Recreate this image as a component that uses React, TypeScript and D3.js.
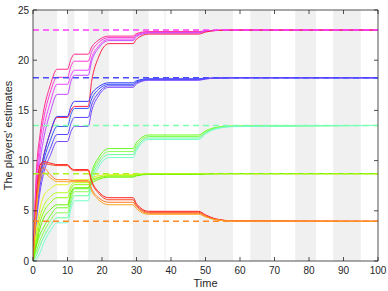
import * as d3 from "d3";
import {useRef, useEffect} from "react";

// sample times of every curve
const times = [0, 1, 2, 3, 5, 7, 10, 11, 12, 16, 17, 19, 22, 29, 30, 33.5, 48, 50, 53, 58, 100];

// shaded intervals (gray)
const bands = [[0, 7], [10, 12], [16, 22], [29, 33.5], [48, 58], [63, 69], [76, 82], [87, 95]];
const thinBands = [[38, 38.6]];

// true values (dashed lines)
const targets = [23, 18.25, 13.5, 8.7, 3.95];
const targetColors = ["#ff3cff", "#4a4aff", "#7dffb0", "#aef21e", "#ff8a26"];

// players' estimates
const curves = [
  {color: "#ff2a8a", v: [0, 9, 12.5, 14.8, 17.5, 19.1, 19.1, 20.1, 20.6, 20.6, 21.3, 22.0, 22.4, 22.4, 22.65, 22.85, 22.85, 22.93, 22.98, 23, 23]},
  {color: "#ff3cd2", v: [0, 8, 11.8, 14.0, 16.8, 18.3, 18.3, 19.4, 19.9, 19.9, 20.85, 21.75, 22.25, 22.25, 22.55, 22.8, 22.8, 22.9, 22.97, 23, 23]},
  {color: "#ee44ff", v: [0, 7, 10.8, 13.0, 15.8, 17.6, 17.6, 18.5, 19.0, 19.0, 20.25, 21.4, 22.1, 22.1, 22.45, 22.75, 22.75, 22.88, 22.96, 23, 23]},
  {color: "#c44cff", v: [0, 6, 9.8, 12.0, 14.8, 16.6, 16.6, 17.9, 18.5, 18.5, 19.9, 21.2, 21.95, 21.95, 22.35, 22.7, 22.7, 22.86, 22.96, 23, 23]},
  {color: "#ff2248", v: [0, 5, 8.5, 10.3, 12.8, 14.3, 14.3, 15.0, 15.4, 15.4, 17.9, 20.3, 21.65, 21.65, 22.1, 22.6, 22.6, 22.8, 22.95, 23, 23]},
  {color: "#3a3aff", v: [0, 5.5, 8.5, 10.3, 12.8, 14.4, 14.4, 15.4, 15.9, 15.9, 16.65, 17.35, 17.75, 17.75, 17.95, 18.15, 18.15, 18.2, 18.23, 18.25, 18.25]},
  {color: "#2f55ff", v: [0, 5, 8, 9.8, 12, 13.4, 13.4, 14.6, 15.2, 15.2, 16.15, 17.1, 17.6, 17.6, 17.85, 18.1, 18.1, 18.17, 18.22, 18.25, 18.25]},
  {color: "#5a44ff", v: [0, 4.5, 7.4, 9.2, 11.2, 12.6, 12.6, 13.7, 14.3, 14.3, 15.55, 16.75, 17.45, 17.45, 17.75, 18.05, 18.05, 18.15, 18.22, 18.25, 18.25]},
  {color: "#7a48ff", v: [0, 4, 6.8, 8.6, 10.5, 11.9, 11.9, 12.9, 13.4, 13.4, 14.95, 16.45, 17.3, 17.3, 17.65, 18.0, 18.0, 18.12, 18.21, 18.25, 18.25]},
  {color: "#66ff22", v: [0, 1.5, 2.6, 3.3, 4.5, 5.3, 5.3, 6.5, 7.2, 7.2, 8.8, 10.3, 11.2, 11.2, 11.8, 12.55, 12.55, 12.95, 13.3, 13.45, 13.5]},
  {color: "#88ff55", v: [0, 1, 2, 2.8, 4, 4.8, 4.8, 6.1, 6.9, 6.9, 8.5, 10.0, 10.9, 10.9, 11.5, 12.4, 12.4, 12.85, 13.25, 13.42, 13.5]},
  {color: "#66ff99", v: [0, 0.6, 1.5, 2.3, 3.5, 4.3, 4.3, 5.7, 6.5, 6.5, 8.15, 9.7, 10.6, 10.6, 11.25, 12.25, 12.25, 12.75, 13.2, 13.4, 13.5]},
  {color: "#77ffcc", v: [0, 0.2, 0.8, 1.7, 3, 3.8, 3.8, 5.2, 6.0, 6.0, 7.7, 9.35, 10.3, 10.3, 11.0, 12.1, 12.1, 12.65, 13.15, 13.38, 13.5]},
  {color: "#e6f026", v: [0, 3, 5.2, 6.4, 7.2, 7.6, 7.6, 7.95, 8.1, 8.1, 8.3, 8.5, 8.6, 8.6, 8.65, 8.7, 8.7, 8.7, 8.7, 8.7, 8.7]},
  {color: "#b4ff1e", v: [0, 2.5, 4.4, 5.4, 6.4, 6.8, 6.8, 7.5, 7.8, 7.8, 8.08, 8.35, 8.5, 8.5, 8.58, 8.66, 8.66, 8.68, 8.7, 8.7, 8.7]},
  {color: "#8cff0a", v: [0, 2, 3.8, 4.8, 5.8, 6.3, 6.3, 7.2, 7.6, 7.6, 7.95, 8.27, 8.45, 8.45, 8.55, 8.65, 8.65, 8.68, 8.7, 8.7, 8.7]},
  {color: "#6cf200", v: [0, 1.7, 3.2, 4.2, 5.1, 5.6, 5.6, 6.8, 7.3, 7.3, 7.72, 8.12, 8.35, 8.35, 8.48, 8.62, 8.62, 8.66, 8.69, 8.7, 8.7]},
  {color: "#ff1a1a", v: [0, 6.5, 9.5, 9.9, 9.75, 9.6, 9.6, 9.25, 9.1, 9.1, 7.98, 6.9, 6.3, 6.3, 5.7, 4.95, 4.95, 4.6, 4.2, 4.0, 3.95]},
  {color: "#ff4422", v: [0, 6, 9, 9.7, 9.6, 9.5, 9.5, 9.15, 9.0, 9.0, 7.85, 6.75, 6.1, 6.1, 5.55, 4.85, 4.85, 4.5, 4.15, 4.0, 3.95]},
  {color: "#ff7a22", v: [0, 5.5, 8.5, 9.3, 8.6, 8.1, 8.1, 8.05, 8.0, 8.0, 7.15, 6.3, 5.85, 5.85, 5.4, 4.75, 4.75, 4.45, 4.12, 3.98, 3.95]},
  {color: "#ffa522", v: [0, 5, 8, 8.8, 8.3, 7.9, 7.9, 7.9, 7.9, 7.9, 6.98, 6.1, 5.6, 5.6, 5.2, 4.65, 4.65, 4.4, 4.1, 3.97, 3.95]},
];

const xTicks = [0, 10, 20, 30, 40, 50, 60, 70, 80, 90, 100];
const yTicks = [0, 5, 10, 15, 20, 25];

export default function App({
  width = 388,
  height = 291,
  marginTop = 10,
  marginRight = 10,
  marginBottom = 30,
  marginLeft = 33
}) {
  const x = d3.scaleLinear([0, 100], [marginLeft, width - marginRight]);
  const y = d3.scaleLinear([0, 25], [height - marginBottom, marginTop]);
  const line = d3.line<number>((d, i) => x(times[i]), (d) => y(d)).curve(d3.curveMonotoneX);
  const axisColor = "#262626";
  const font = "'Liberation Sans', Arial, sans-serif";
  const x0 = x(0), x1 = x(100), y0 = y(0), y1 = y(25);

  return (
    <svg width={width} height={height} style={{position: "absolute", left: 0, top: 0, background: "#fff"}}>
      <defs>
        <clipPath id="plot"><rect x={x0} y={y1} width={x1 - x0} height={y0 - y1} /></clipPath>
      </defs>
      <g>
        {bands.map(([a, b], i) => (
          <rect key={i} x={x(a)} y={y1} width={x(b) - x(a)} height={y0 - y1} fill="#f0f0f0" />
        ))}
        {thinBands.map(([a, b], i) => (
          <rect key={i} x={x(a)} y={y1} width={x(b) - x(a)} height={y0 - y1} fill="#f5f5f5" />
        ))}
      </g>
      <g clipPath="url(#plot)" fill="none" strokeWidth={1}>
        {curves.map((c, i) => (<path key={i} d={line(c.v) || ""} stroke={c.color} />))}
        {targets.map((t, i) => (
          <line key={i} x1={x0} x2={x1} y1={y(t)} y2={y(t)} stroke={targetColors[i]} strokeWidth={1.5} strokeDasharray="6,4" />
        ))}
      </g>
      <g stroke={axisColor} strokeWidth={0.8} fill="none">
        <path d={`M${x0},${y1}V${y0}H${x1}V${y1}H${x0}`} />
        {xTicks.map((t) => (
          <path key={t} d={`M${x(t)},${y0}v-4M${x(t)},${y1}v4`} />
        ))}
        {yTicks.map((t) => (
          <path key={t} d={`M${x0},${y(t)}h4M${x1},${y(t)}h-4`} />
        ))}
      </g>
      <g fill={axisColor} fontFamily={font} fontSize={10}>
        {xTicks.map((t) => (
          <text key={t} x={x(t)} y={y0 + 13} textAnchor="middle">{t}</text>
        ))}
        {yTicks.map((t) => (
          <text key={t} x={x0 - 4} y={y(t) + 3.5} textAnchor="end">{t}</text>
        ))}
        <text x={(x0 + x1) / 2} y={y0 + 26} textAnchor="middle" fontSize={11}>Time</text>
        <text transform={`translate(${x0 - 21},${(y0 + y1) / 2}) rotate(-90)`} textAnchor="middle" fontSize={11}>The players' estimates</text>
      </g>
    </svg>
  );
}
